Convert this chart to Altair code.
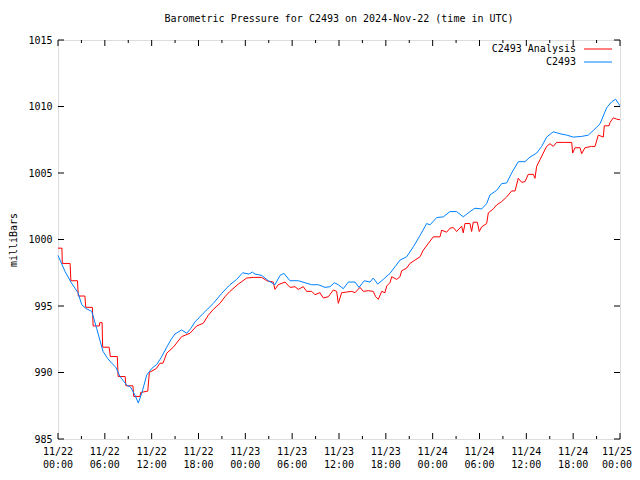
import altair as alt
import pandas as pd

# ---- data (hours since 2024-11-22 00:00 UTC) ----
series_names = ["C2493 Analysis", "C2493"]
series_colors = ["#ff0000", "#0080ff"]

red_hours = [0, 0.5, 0.55, 1.55, 1.65, 2.5, 2.6, 3.45, 3.55, 4.4, 4.5, 5.3, 5.35, 5.65,
             5.72, 6.55, 6.7, 7.6, 7.7, 8.6, 8.7, 9.6, 9.7, 10.5, 10.6, 11.5, 11.7, 12.6,
             13.07, 13.45, 13.93, 14.77, 15.85, 16.91, 17.77, 18.61, 19.25, 19.9, 20.75,
             21.39, 22.03, 23.1, 24.17, 25.02, 26.1, 26.74, 27.58, 27.8, 28.22, 29.08,
             29.72, 30.36, 30.78, 31.42, 31.86, 32.5, 32.92, 33.56, 33.99, 34.63, 35.27,
             35.7, 35.91, 36.34, 36.98, 37.62, 38.05, 38.69, 39.11, 39.75, 40.39, 40.7,
             41.03, 41.47, 41.89, 42.11, 42.53, 42.75, 43.39, 43.81, 44.03, 44.67, 45.09,
             45.73, 46.38, 46.8, 47.44, 48.08, 48.94, 49.15, 49.79, 50.22, 50.64, 51.07,
             51.71, 51.92, 52.14, 52.78, 52.99, 53.2, 53.72, 53.97, 54.28, 54.92, 55.13,
             55.77, 56.2, 56.84, 57.48, 58.12, 58.55, 58.97, 59.4, 59.83, 60.25, 60.89,
             61.11, 61.32, 61.75, 62.17, 62.6, 63.03, 63.45, 63.88, 64.74, 65.81, 65.94,
             66.24, 66.88, 67.09, 67.51, 68.37, 68.8, 69.22, 69.86, 69.99, 70.59, 70.72,
             71.14, 71.57, 72.0]
red_values = [999.35, 999.35, 998.2, 998.2, 996.9, 996.9, 995.75, 995.75, 994.9, 994.9,
              993.5, 993.5, 993.75, 993.75, 991.9, 991.9, 991.2, 991.2, 989.7, 989.7,
              989.0, 989.0, 988.2, 988.2, 988.5, 988.6, 990.0, 990.3, 990.7, 990.7, 991.45,
              991.9, 992.7, 992.95, 993.5, 993.7, 994.3, 994.75, 995.2, 995.7, 996.1,
              996.65, 997.1, 997.15, 997.15, 996.9, 996.8, 996.25, 996.6, 996.8, 996.4,
              996.45, 996.25, 996.45, 996.1, 996.1, 995.85, 996.0, 995.6, 995.7, 996.2,
              996.1, 995.2, 996.0, 996.05, 996.1, 996.0, 996.4, 996.1, 996.15, 996.1,
              995.7, 995.5, 996.1, 996.0, 996.5, 996.75, 997.2, 997.0, 997.2, 997.65,
              997.85, 998.2, 998.45, 998.7, 999.2, 999.7, 1000.2, 1000.2, 1000.7, 1000.55,
              1000.85, 1000.9, 1000.6, 1001.0, 1000.5, 1001.2, 1001.2, 1000.6, 1001.3,
              1001.3, 1000.6, 1000.95, 1001.2, 1002.0, 1002.3, 1002.6, 1002.85, 1003.2,
              1003.65, 1003.65, 1004.6, 1004.3, 1004.35, 1004.9, 1004.9, 1004.6, 1005.5,
              1006.0, 1006.5, 1007.0, 1007.2, 1007.0, 1007.3, 1007.3, 1007.3, 1006.5,
              1006.9, 1006.9, 1006.45, 1006.9, 1007.0, 1007.0, 1007.85, 1007.7, 1008.55,
              1008.55, 1008.8, 1009.15, 1009.05, 1009.0]

blue_hours = [0, 0.9, 1.75, 2.56, 3.04, 3.6, 4.32, 4.96, 5.76, 6.3, 6.88, 7.4, 7.94, 8.8,
              9.3, 9.86, 10.29, 10.76, 11.36, 12.0, 12.64, 13.2, 13.93, 14.5, 14.99, 15.85,
              16.49, 17.0, 17.55, 18.61, 19.9, 20.97, 22.03, 22.89, 23.66, 24.47, 24.9,
              25.24, 26.1, 26.94, 27.8, 28.44, 28.95, 29.72, 30.78, 31.64, 32.5, 33.35,
              34.2, 34.85, 35.4, 35.9, 36.55, 37.19, 38.05, 38.56, 39.24, 39.97, 40.39,
              40.96, 41.67, 42.53, 43.17, 43.81, 44.67, 45.52, 46.38, 47.23, 47.66, 48.51,
              49.36, 50.22, 51.07, 51.92, 52.78, 53.42, 54.28, 54.92, 55.34, 56.2, 56.84,
              57.48, 58.12, 58.97, 59.83, 60.47, 61.33, 61.97, 62.6, 63.45, 64.31, 65.17,
              66.02, 67.09, 67.94, 68.58, 69.44, 70.29, 70.93, 71.44, 71.78, 72.0]
blue_values = [998.8, 997.6, 996.7, 996.0, 995.1, 994.8, 994.6, 993.3, 991.6, 991.1, 990.7,
               990.4, 989.7, 989.05, 988.9, 988.3, 987.7, 988.5, 989.8, 990.3, 990.6,
               991.1, 991.9, 992.5, 992.9, 993.2, 992.95, 993.3, 993.8, 994.45, 995.2,
               995.95, 996.6, 997.0, 997.5, 997.4, 997.55, 997.4, 997.3, 996.9, 996.6,
               997.3, 997.45, 996.9, 996.9, 996.75, 996.6, 996.6, 996.4, 996.45, 996.75,
               996.6, 996.3, 996.8, 996.8, 996.4, 996.9, 996.8, 997.1, 996.65, 997.0,
               997.45, 997.95, 998.45, 998.7, 999.45, 1000.3, 1001.2, 1001.1, 1001.65,
               1001.7, 1002.1, 1002.1, 1001.7, 1002.1, 1002.35, 1002.3, 1002.7, 1003.35,
               1003.7, 1004.2, 1004.25, 1005.0, 1005.85, 1005.85, 1006.2, 1006.5, 1007.0,
               1007.7, 1008.1, 1007.95, 1007.85, 1007.7, 1007.75, 1007.85, 1008.2, 1008.7,
               1009.9, 1010.35, 1010.55, 1010.25, 1010.05]

x_major_ticks = [0, 6, 12, 18, 24, 30, 36, 42, 48, 54, 60, 66, 72]
x_tick_labels = ["11/22\n00:00", "11/22\n06:00", "11/22\n12:00", "11/22\n18:00",
                 "11/23\n00:00", "11/23\n06:00", "11/23\n12:00", "11/23\n18:00",
                 "11/24\n00:00", "11/24\n06:00", "11/24\n12:00", "11/24\n18:00",
                 "11/25\n00:00"]
x_minor_ticks = [3, 9, 15, 21, 27, 33, 39, 45, 51, 57, 63, 69]
y_ticks = [985, 990, 995, 1000, 1005, 1010, 1015]

W, H = 562, 399
FONT = "DejaVu Sans Mono"

lines_df = pd.concat([
    pd.DataFrame({"hour": red_hours, "value": red_values, "series": series_names[0], "order": 0}),
    pd.DataFrame({"hour": blue_hours, "value": blue_values, "series": series_names[1], "order": 1}),
])

xscale = alt.Scale(domain=[0, 72], nice=False, zero=False)
yscale = alt.Scale(domain=[985, 1015], nice=False, zero=False)
color_scale = alt.Scale(domain=series_names, range=series_colors)

lines = alt.Chart(lines_df).mark_line(strokeWidth=1, interpolate="linear").encode(
    x=alt.X("hour:Q", scale=xscale, axis=None),
    y=alt.Y("value:Q", scale=yscale,
            axis=alt.Axis(values=y_ticks, format="d", title="milliBars", ticks=False,
                          tickSize=0, domain=False, grid=False, labelFont=FONT,
                          labelFontSize=10, labelColor="black", labelPadding=6,
                          labelFlush=False, titleFont=FONT, titleFontSize=10,
                          titleFontWeight="normal", titleColor="black", titleX=-45,
                          titleY=H / 2, titleAngle=-90, titleAlign="center",
                          titleBaseline="middle")),
    color=alt.Color("series:N", scale=color_scale, legend=None),
    detail="series:N",
    order=alt.Order("order:Q"),
)

maj_df = pd.DataFrame({"hour": x_major_ticks, "label": x_tick_labels})
min_df = pd.DataFrame({"hour": x_minor_ticks})
yt_df = pd.DataFrame({"value": y_ticks})

def x_label_layer(df, dx):
    return alt.Chart(df).mark_text(
        align="center", baseline="top", font=FONT, fontSize=10, color="black",
        lineBreak="\n", lineHeight=13, dx=dx,
    ).encode(
        x=alt.X("hour:Q", scale=xscale, axis=None),
        y=alt.value(H + 8),
        text="label:N",
    )

# the last label is nudged so it is not clipped at the page edge
x_labels_main = x_label_layer(maj_df.iloc[:-1], 0)
x_labels_last = x_label_layer(maj_df.iloc[-1:], -3)

def xticks(df, y0, y1):
    return alt.Chart(df).mark_rule(color="black", strokeWidth=1).encode(
        x=alt.X("hour:Q", scale=xscale, axis=None),
        y=alt.value(y0), y2=alt.value(y1))

def yticks(x0, x1):
    return alt.Chart(yt_df).mark_rule(color="black", strokeWidth=1).encode(
        y=alt.Y("value:Q", scale=yscale, axis=None),
        x=alt.value(x0), x2=alt.value(x1))

tick_layers = [
    xticks(maj_df, H, H - 6), xticks(maj_df, 0, 6),
    xticks(min_df, H, H - 3), xticks(min_df, 0, 3),
    yticks(0, 6), yticks(W, W - 6),
]

legend_df = pd.DataFrame({"series": series_names, "row": [0, 1]})
row_scale = alt.Scale(domain=[0, 1], range=[9, 22])
legend_text = alt.Chart(legend_df).mark_text(
    align="right", baseline="middle", font=FONT, fontSize=10, color="black"
).encode(
    text="series:N",
    x=alt.value(518),
    y=alt.Y("row:Q", scale=row_scale, axis=None),
)
legend_lines = alt.Chart(legend_df).mark_rule(strokeWidth=1).encode(
    x=alt.value(526), x2=alt.value(554),
    y=alt.Y("row:Q", scale=row_scale, axis=None),
    color=alt.Color("series:N", scale=color_scale, legend=None),
)

chart = alt.layer(lines, x_labels_main, x_labels_last, *tick_layers,
                  legend_lines, legend_text).resolve_scale(
    y="independent"
).properties(
    width=W, height=H,
    title=alt.Title("Barometric Pressure for C2493 on 2024-Nov-22 (time in UTC)",
                    font=FONT, fontSize=10, fontWeight="normal", color="black",
                    anchor="middle", offset=11),
    autosize=alt.AutoSizeParams(type="none"),
    padding={"left": 50, "top": 32, "right": 12, "bottom": 32},
).configure_view(stroke="black", strokeWidth=1).configure(background="white")

chart.save("out.html", embed_options={"renderer": "svg", "actions": False})
